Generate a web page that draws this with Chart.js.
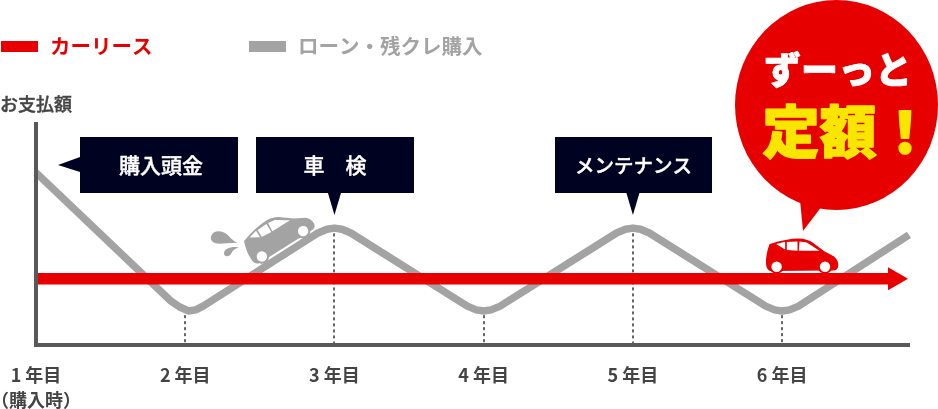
<!DOCTYPE html>
<html lang="ja">
<head>
<meta charset="utf-8">
<style>html,body{margin:0;padding:0;background:#fff}canvas{display:block}</style>
<script src="https://cdn.jsdelivr.net/npm/chart.js@4"></script>
</head>
<body>
<canvas id="c" width="938" height="409"></canvas>
<script>
const tickLabels = [["1 年目","（購入時）"],"2 年目","3 年目","4 年目","5 年目","6 年目"];
const leaseLabel = "カーリース";
const loanLabel = "ローン・残クレ購入";
const leaseX = [1, 6.754];
const leaseY = [30, 30];
const loanX = [1, 1.9, 1.96, 2.02, 2.07, 2.12, 2.89, 2.95, 3, 3.05, 3.11, 3.89, 3.95, 4, 4.05, 4.11, 4.89, 4.95, 5, 5.05, 5.11, 5.89, 5.95, 6, 6.05, 6.11, 6.85];
const loanY = [78, 20.1, 17.3, 15.4, 15.9, 17.6, 50.7, 52.4, 52.9, 52.4, 50.7, 17.6, 15.9, 15.4, 15.9, 17.6, 50.7, 52.4, 52.9, 52.4, 50.7, 17.6, 15.9, 15.4, 15.9, 17.6, 49.8];
const dropYears = [2, 3, 4, 5, 6];
const dropTops = [13.5, 50.5, 13.5, 50.5, 13.5];
const yAxisTitle = "お支払額";
const calloutHead = "購入頭金";
const calloutInspect = "車　検";
const calloutMaint = "メンテナンス";
const bubbleTop = "ずーっと";
const bubbleBottom = "定額！";

const F = '"Noto Sans CJK JP","Noto Sans",sans-serif';
const RED = '#e80000', GRAY = '#a3a3a3', NAVY = '#000222', DARK = '#595959', TXT = '#444444';

function toXY(xs, ys){ return xs.map((x,i)=>({x, y:ys[i]})); }

function text(ctx, s, x, y, font, color, align, thick){
  ctx.font = font; ctx.fillStyle = color; ctx.textAlign = align || 'center'; ctx.textBaseline = 'middle';
  if (thick) { ctx.strokeStyle = color; ctx.lineWidth = thick; ctx.lineJoin = 'round'; ctx.strokeText(s, x, y); }
  ctx.fillText(s, x, y);
}
function poly(ctx, pts, color){
  ctx.fillStyle = color; ctx.beginPath();
  pts.forEach((p,i)=> i ? ctx.lineTo(p[0],p[1]) : ctx.moveTo(p[0],p[1]));
  ctx.closePath(); ctx.fill();
}
function car(ctx, cx, cy, angle, color){
  ctx.save(); ctx.translate(cx, cy); ctx.rotate(angle);
  ctx.fillStyle = color; ctx.strokeStyle = color; ctx.lineWidth = 1.5; ctx.lineJoin = 'round';
  ctx.beginPath();
  ctx.moveTo(-30.7,-22);
  ctx.quadraticCurveTo(-14,-27.5,-2,-27.5);
  ctx.quadraticCurveTo(6,-27.5,12,-23);
  ctx.lineTo(22.7,-15);
  ctx.lineTo(33,-9.5);
  ctx.quadraticCurveTo(37,-6,36.7,-1);
  ctx.quadraticCurveTo(36.5,2.5,33,3);
  ctx.lineTo(-30.5,3.5);
  ctx.quadraticCurveTo(-34,2,-34,-3.3);
  ctx.quadraticCurveTo(-34.5,-12,-30.7,-22);
  ctx.closePath(); ctx.fill(); ctx.stroke();
  poly(ctx, [[-24.7,-22.7],[-15.7,-25],[-15.7,-17.3]], '#fff');
  poly(ctx, [[-14,-24.7],[-3.3,-25.3],[-3.3,-16],[-14,-16.7]], '#fff');
  poly(ctx, [[-1.3,-25.3],[6,-24.3],[18.7,-16],[-2,-16]], '#fff');
  [-24.2, 24.2].forEach(wx=>{
    ctx.fillStyle = color; ctx.beginPath(); ctx.arc(wx,0,7.2,0,Math.PI*2); ctx.fill();
    ctx.fillStyle = '#fff'; ctx.beginPath(); ctx.arc(wx,0,5.2,0,Math.PI*2); ctx.fill();
  });
  ctx.restore();
}

const decorations = {
  id: 'decorations',
  beforeDatasetsDraw(chart){
    const {ctx, scales:{x,y}} = chart;
    ctx.save();
    ctx.strokeStyle = '#666'; ctx.lineWidth = 2; ctx.setLineDash([3,3]);
    dropYears.forEach((yr,i)=>{
      const px = Math.round(x.getPixelForValue(yr));
      ctx.beginPath();
      ctx.moveTo(px, y.getPixelForValue(dropTops[i]));
      ctx.lineTo(px, y.bottom - 2);
      ctx.stroke();
    });
    ctx.restore();
  },
  afterDraw(chart){
    const {ctx, scales:{x,y}} = chart;
    ctx.save();
    const ly = 46.5;
    const ds = chart.data.datasets;
    ctx.fillStyle = ds[0].borderColor; ctx.fillRect(1, 41, 37, 11);
    text(ctx, ds[0].label, 50, ly, '700 20.5px '+F, ds[0].borderColor, 'left');
    ctx.fillStyle = ds[1].borderColor; ctx.fillRect(249, 41, 37, 11);
    text(ctx, ds[1].label, 298, ly, '700 20.5px '+F, ds[1].borderColor, 'left');
    text(ctx, yAxisTitle, 0, 104, '500 18px '+F, TXT, 'left', 0.4);
    const boxes = [
      {l:80, r:238, s:calloutHead, f:21, dx:2},
      {l:256, r:414, s:calloutInspect, f:21, dx:0},
      {l:555, r:712, s:calloutMaint, f:19.5, dx:0}
    ];
    boxes.forEach(b=>{
      ctx.fillStyle = NAVY; ctx.fillRect(b.l,137,b.r-b.l,56);
      text(ctx, b.s, (b.l+b.r)/2 + b.dx, 165.5, '500 '+b.f+'px '+F, '#fff', 'center', 0.4);
    });
    poly(ctx, [[80,157],[58,165],[80,172]], NAVY);
    [3,5].forEach(yr=>{
      const px = x.getPixelForValue(yr);
      poly(ctx, [[px-6.5,193],[px+6.5,193],[px,215]], NAVY);
    });
    car(ctx, 282.5, 243.8, -31.6*Math.PI/180, GRAY);
    ctx.fillStyle = GRAY;
    ctx.beginPath(); ctx.moveTo(237.3,242.7);
    ctx.bezierCurveTo(230,240,228,231.5,219,231.3);
    ctx.bezierCurveTo(212,231,209,238,212,241);
    ctx.bezierCurveTo(215,245.5,224,243,237.3,242.7); ctx.fill();
    ctx.beginPath(); ctx.moveTo(238.7,247.3);
    ctx.bezierCurveTo(232,246,224,248,224,253.5);
    ctx.bezierCurveTo(224,257,229,257,231,254);
    ctx.bezierCurveTo(232,251,235,248.5,238.7,247.3); ctx.fill();
    car(ctx, 800.8, 266.7, 0, RED);
    ctx.fillStyle = '#e60000';
    ctx.beginPath(); ctx.ellipse(836.5,105,101.5,105,0,0,Math.PI*2); ctx.fill();
    poly(ctx, [[800,200],[822,206],[803,231]], '#e60000');
    text(ctx, bubbleTop, 838, 70, '900 37px '+F, '#fff', 'center', 0.8);
    text(ctx, bubbleBottom, 848, 131, '900 57px '+F, '#f8e600', 'center', 1.5);
    ctx.restore();
  }
};

new Chart(document.getElementById('c'), {
  type: 'line',
  data: {
    datasets: [
      { label: leaseLabel, data: toXY(leaseX, leaseY), borderColor: RED, backgroundColor: RED, borderWidth: 11.5,
        pointStyle: 'triangle', pointRotation: 90, pointRadius: [0, 13.3], pointBorderWidth: 0, pointBackgroundColor: RED, clip: false },
      { label: loanLabel, data: toXY(loanX, loanY), borderColor: GRAY, backgroundColor: GRAY, borderWidth: 7.5,
        pointRadius: 0, borderJoinStyle: 'round', clip: false }
    ]
  },
  options: {
    responsive: false,
    animation: false,
    layout: { padding: { left: 36, right: 29, top: 124, bottom: 0 } },
    plugins: { legend: { display: false }, tooltip: { enabled: false } },
    scales: {
      x: {
        type: 'linear', min: 1, max: 6.85,
        grid: { display: false, drawTicks: false },
        border: { color: DARK, width: 4, z: 1 },
        ticks: {
          stepSize: 1, includeBounds: false, autoSkip: false, maxRotation: 0, padding: 18,
          color: TXT, font: { family: F, size: 18, weight: '700', lineHeight: 25/18 },
          callback: v => tickLabels[v-1]
        },
        afterFit(s){ s.height = 64; s.paddingLeft = 0; s.paddingRight = 0; }
      },
      y: {
        type: 'linear', min: 0, max: 100,
        grid: { display: false, drawTicks: false },
        border: { color: DARK, width: 4, z: 1 },
        ticks: { display: false },
        afterFit(s){ s.width = 0; s.paddingTop = 0; s.paddingBottom = 0; }
      }
    }
  },
  plugins: [decorations]
});
</script>
</body>
</html>
